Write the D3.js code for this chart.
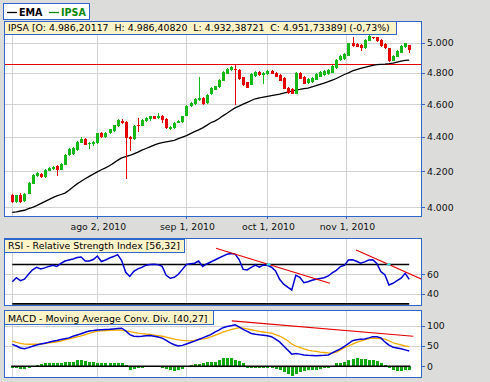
<!DOCTYPE html>
<html><head><meta charset="utf-8">
<script src="https://cdn.jsdelivr.net/npm/d3@7"></script>
<style>
html,body{margin:0;padding:0;background:#dcdddb;}
svg{display:block;font-family:"DejaVu Sans",sans-serif;}
</style></head><body>
<svg id="c" width="490" height="382"></svg>
<script>
// ---------- DATA ----------
const open  = [4070,4027,4070,4032,4074,4130,4176,4187,4165,4204,4214,4228,4209,4237,4294,4300,4323,4367,4387,4358,4359,4364,4425,4398,4422,4436,4466,4498,4488,4398,4386,4470,4468,4496,4507,4526,4512,4528,4508,4450,4454,4486,4490,4530,4588,4600,4625,4640,4605,4662,4692,4706,4750,4795,4816,4822,4818,4770,4738,4724,4778,4806,4785,4790,4812,4800,4784,4766,4705,4695,4666,4800,4772,4734,4740,4756,4775,4785,4790,4800,4830,4882,4890,4912,5000,4991,4984,4962,5013,5036,5036,5018,4991,4962,4880,4906,4932,4969,4986.2];
const high  = [4074,4070,4078,4080,4138,4185,4198,4192,4212,4224,4232,4236,4248,4298,4332,4338,4376,4400,4392,4372,4378,4426,4430,4430,4450,4474,4506,4506,4494,4408,4470,4514,4506,4520,4530,4530,4546,4532,4512,4468,4492,4504,4530,4592,4616,4640,4770,4645,4662,4710,4718,4760,4810,4834,4842,4854,4822,4775,4742,4800,4812,4812,4806,4818,4818,4806,4790,4772,4710,4700,4806,4806,4778,4766,4774,4800,4812,4818,4822,4850,4890,4918,4930,5000,5037,4996,4990,5022,5050,5042,5040,5022,4996,4966,4915,4950,4982,5000,4986.4];
const low   = [4022,4022,4025,4030,4072,4128,4168,4160,4162,4200,4210,4176,4205,4234,4290,4296,4320,4362,4350,4327,4345,4360,4394,4394,4418,4432,4462,4478,4155,4320,4382,4430,4465,4492,4496,4506,4508,4484,4448,4440,4450,4482,4486,4526,4584,4596,4622,4596,4600,4658,4688,4700,4746,4790,4812,4596,4755,4718,4700,4720,4774,4780,4730,4786,4790,4770,4746,4694,4666,4662,4662,4758,4726,4730,4736,4752,4770,4780,4786,4796,4826,4878,4886,4908,4974,4968,4946,4958,5010,5026,5008,4974,4958,4874,4876,4902,4928,4964,4932.4];
const close = [4027,4066,4031,4075,4134,4181,4190,4165,4209,4218,4224,4209,4243,4294,4327,4333,4372,4387,4355,4362,4370,4422,4398,4425,4446,4470,4502,4482,4394,4386,4466,4464,4502,4516,4526,4510,4528,4502,4452,4462,4486,4498,4526,4588,4608,4634,4638,4600,4658,4704,4712,4755,4806,4828,4835,4816,4760,4724,4704,4795,4806,4785,4800,4812,4795,4774,4750,4698,4671,4666,4800,4762,4730,4760,4768,4795,4806,4812,4816,4845,4884,4913,4925,4996,4978,4973,4962,5018,5045,5030,5013,4978,4962,4880,4911,4946,4978,4996,4951.7];
const ema   = [3973,3975,3980,3984,3993,4000,4009,4020,4031,4042,4053,4062,4070,4078,4094,4112,4129,4144,4158,4171,4184,4197,4209,4220,4232,4247,4263,4277,4285,4291,4301,4311,4322,4332,4342,4352,4361,4366,4371,4376,4380,4390,4399,4408,4420,4432,4443,4455,4470,4486,4496,4510,4528,4544,4561,4577,4588,4600,4611,4623,4634,4639,4644,4649,4654,4659,4664,4670,4676,4682,4689,4693,4698,4702,4710,4717,4726,4734,4743,4753,4763,4776,4789,4800,4812,4821,4829,4836,4842,4848,4853,4855,4857,4860,4864,4870,4876,4881,4883];
const resistance = 4856;
const rsi   = [52.5,56.5,53.5,55,60,64.5,67,65.5,66.5,68,69.2,68,71,73.5,74.5,75.5,77,77.5,73.5,73.5,75,78.6,73,74.5,76.5,78,80,74,62,57.8,63,65.5,67,69.3,70,70.2,69.8,68,59,56,57,60,65,70,70.8,71.2,73.5,68,70.5,72.5,74.5,76.5,78.5,80.3,81,80.5,75,65,64.5,67,69.3,67.3,69.5,69,67.2,63.5,55,50,47,44.1,59,57,51.5,52.5,54,55,55.8,56.5,58.3,61.5,64,67.8,69.1,74.5,74.8,73.2,71.2,72.6,74.5,74.8,71,62.8,59.5,49.1,50.9,53.5,56,61,54.9];
const rsiLevels = [70, 30];
const rsiTrend1 = [[50.3, 86.4], [78.4, 50.9]];
const rsiTrend2 = [[84.9, 84.7], [101.2, 54.9]];
const macd  = [54,50,45,43,46,49.5,52.5,55,57,59,61.5,63.5,66,68,70,74,77,80,84,87,88,89.5,90,90.5,91,92,93,93.8,87.2,78,74,73.5,74,75,75.6,74,72,69.5,64,57.5,53,50,51.5,55,58.5,62,66,70,74,78,84,89,95,98,100,102,97,91,86,81,79,77.5,76.5,75,73,67,60,50,40,30,31.5,30,28,27,26.5,26,26.5,27,28,33,38,43,49,56,63,65.5,66.5,67.5,70,73,72.5,70,60,52,47,45,43,40.5,37.8];
const signal= [62,59,56.5,54.5,54.3,54.3,54.3,55,56,57.5,59,60.5,62,65,67.5,70,72.5,75,78,81,84,86.5,87.5,88,88.5,89,89.6,88.5,87,85.4,83.5,81.8,80.5,79.5,78.3,77,75.8,74,72,69.5,67,65,64,63,62.5,64,66,67.5,69,72.5,76,80,84,87.5,90.5,93,95,94,92,90,88,86,84.5,83,81.5,78,74.5,69,63,55,50,46.5,43,40,38,36.5,35,34,33,32.3,35,40,45.9,50,54.5,59,62,65,68,69.5,69,68,67,63,58,55,52.5,50,48.4];
const hist  = [-3,-5,-7,-7,-5,-2,3,5,7,8,7,8,7,10,11.5,11.5,15,15.6,13,11.5,10,8,7,7,7,7,7,7,2,-8,-6.5,-5,-3,-1,0,0,-1,-3,-6.5,-10,-11.5,-10,-6.5,-1.6,2,5,6.5,8,10,11.5,11.5,15,20,20,20,15.6,13,7,-3,-3,-3,-4,-4,-5,-5,-6.5,-8,-13,-18,-23,-18,-15,-12,-10,-10,-8,-7,-5,-3,0,7,8,11.5,15,18,19.5,18,17,15.5,15,12,8,2,-5,-8,-11.5,-11.5,-8,-8];
const macdTrend = [[54.2, 112], [99, 74]];
const xTickIdx    = [0, 21, 43, 63, 82.5];
const xTickLabels = ["", "ago 2, 2010", "sep 1, 2010", "oct 1, 2010", "nov 1, 2010"];
const priceTicks  = [5000, 4800, 4600, 4400, 4200, 4000];
const rsiTicks    = [60, 40];
const macdTicks   = [100, 50, 0];
const titleMain = "IPSA [O: 4.986,20117  H: 4.986,40820  L: 4.932,38721  C: 4.951,73389] (-0,73%)";
const titleRsi  = "RSI - Relative Strength Index [56,32]";
const titleMacd = "MACD - Moving Average Conv. Div. [40,27]";

// ---------- STYLE / LAYOUT ----------
const BLUE="#2f66cc", GRID="#d3d3d3", UP="#16b816", DOWN="#e40000", YEL="#fff3c8";
const L=4, R=421;
const pMain={t:21,b:216}, pRsi={t:238,b:305}, pMacd={t:310,b:377};
const svg=d3.select("#c");
const idx=d3.range(close.length);
const x=d3.scaleLinear().domain([0,98]).range([12.3,409.2]);
const y=d3.scaleLog().domain([4000,5000]).range([207.3,42.7]);
const yR=d3.scaleLinear().domain([40,60]).range([294,274.3]);
const yM=d3.scaleLinear().domain([0,100]).range([366.3,325.7]);
const px=v=>Math.round(v)+0.5;

function panel(p,id){
  svg.append("rect").attr("x",L+0.5).attr("y",p.t+0.5).attr("width",R-L).attr("height",p.b-p.t).attr("fill","#fff");
  svg.append("clipPath").attr("id",id).append("rect").attr("x",L+1).attr("y",p.t+1).attr("width",R-L-1).attr("height",p.b-p.t-1);
  const g=svg.append("g").attr("clip-path",`url(#${id})`);
  g.selectAll("line.vg").data(xTickIdx).join("line").attr("class","vg")
    .attr("x1",d=>px(x(d))).attr("x2",d=>px(x(d))).attr("y1",p.t).attr("y2",p.b)
    .attr("stroke",GRID).attr("stroke-width",1).attr("shape-rendering","crispEdges");
  return g;
}
function border(p){
  svg.append("rect").attr("x",L+0.5).attr("y",p.t+0.5).attr("width",R-L).attr("height",p.b-p.t)
    .attr("fill","none").attr("stroke",BLUE).attr("stroke-width",1).attr("shape-rendering","crispEdges");
}
function rightAxis(ticks,scale,fmt){
  const g=svg.append("g");
  g.selectAll("line").data(ticks).join("line").attr("x1",R).attr("x2",R+4)
    .attr("y1",d=>px(scale(d))).attr("y2",d=>px(scale(d))).attr("stroke",BLUE).attr("shape-rendering","crispEdges");
  g.selectAll("text").data(ticks).join("text").attr("x",R+6).attr("y",d=>scale(d)).attr("dy","0.36em")
    .attr("font-size","9.3px").attr("fill","#111").text(fmt);
}
function titleBox(t,xx,yy,w,h,base){
  svg.append("rect").attr("x",xx+0.5).attr("y",yy+0.5).attr("width",w).attr("height",h)
    .attr("fill",YEL).attr("stroke",BLUE).attr("shape-rendering","crispEdges");
  svg.append("text").attr("x",xx+4).attr("y",base).attr("font-size","9.4px").attr("fill","#000")
    .attr("xml:space","preserve").style("white-space","pre").text(t);
}

// ---------- MAIN PANEL ----------
const gm=panel(pMain,"cm");
gm.selectAll("line.hg").data(priceTicks).join("line").attr("class","hg")
  .attr("x1",L).attr("x2",R).attr("y1",d=>px(y(d))).attr("y2",d=>px(y(d)))
  .attr("stroke",GRID).attr("shape-rendering","crispEdges");
gm.append("line").attr("x1",L).attr("x2",R).attr("y1",px(y(resistance))).attr("y2",px(y(resistance)))
  .attr("stroke",DOWN).attr("stroke-width",1.2);
gm.append("path").datum(idx).attr("fill","none").attr("stroke","#000").attr("stroke-width",1.3)
  .attr("d",d3.line().x(i=>x(i)).y(i=>y(ema[i])));
const cg=gm.selectAll("g.cd").data(idx).join("g").attr("class","cd");
cg.append("line").attr("x1",i=>px(x(i))).attr("x2",i=>px(x(i)))
  .attr("y1",i=>y(high[i])).attr("y2",i=>y(low[i]))
  .attr("stroke",i=>close[i]>=open[i]?UP:DOWN).attr("stroke-width",1).attr("shape-rendering","crispEdges");
cg.append("rect").attr("x",i=>Math.round(x(i))-1).attr("width",3)
  .attr("y",i=>y(Math.max(open[i],close[i])))
  .attr("height",i=>Math.max(1,y(Math.min(open[i],close[i]))-y(Math.max(open[i],close[i]))))
  .attr("fill",i=>close[i]>=open[i]?UP:DOWN).attr("shape-rendering","crispEdges");
border(pMain);
rightAxis(priceTicks,y,d=>d3.format(".3f")(d/1000));
// x axis
const xa=svg.append("g");
xa.selectAll("line").data(xTickIdx.filter((d,i)=>xTickLabels[i])).join("line")
  .attr("x1",d=>px(x(d))).attr("x2",d=>px(x(d))).attr("y1",pMain.b).attr("y2",pMain.b+3)
  .attr("stroke",BLUE).attr("shape-rendering","crispEdges");
xa.selectAll("text").data(xTickIdx).join("text").attr("x",d=>x(d)+1).attr("y",229.5)
  .attr("text-anchor","middle").attr("font-size","9.3px").attr("fill","#111").text((d,i)=>xTickLabels[i]);
titleBox(titleMain,L,pMain.t,391.5,12.5,31);

// ---------- RSI PANEL ----------
const gr=panel(pRsi,"cr");
gr.selectAll("line.hg").data(rsiTicks).join("line").attr("class","hg")
  .attr("x1",L).attr("x2",R).attr("y1",d=>px(yR(d))).attr("y2",d=>px(yR(d)))
  .attr("stroke",GRID).attr("shape-rendering","crispEdges");
gr.selectAll("line.lv").data(rsiLevels).join("line").attr("class","lv")
  .attr("x1",x(0)).attr("x2",x(98)).attr("y1",d=>yR(d)).attr("y2",d=>yR(d))
  .attr("stroke","#000").attr("stroke-width",1.6);
gr.append("path").datum(idx).attr("fill","none").attr("stroke","#0000d4").attr("stroke-width",1.5)
  .attr("d",d3.line().x(i=>x(i)).y(i=>yR(rsi[i])));
[rsiTrend1,rsiTrend2].forEach(tl=>{
  gr.append("line").attr("x1",x(tl[0][0])).attr("y1",yR(tl[0][1])).attr("x2",x(tl[1][0])).attr("y2",yR(tl[1][1]))
    .attr("stroke",DOWN).attr("stroke-width",1.2);
  // marker where trend line crosses the 70 level
  const t=(rsiLevels[0]-tl[0][1])/(tl[1][1]-tl[0][1]);
  const ci=tl[0][0]+t*(tl[1][0]-tl[0][0]);
  gr.append("rect").attr("x",x(ci)-2).attr("y",yR(rsiLevels[0])-1).attr("width",4).attr("height",2).attr("fill","#33dddd");
});
border(pRsi);
rightAxis(rsiTicks,yR,d=>d);
titleBox(titleRsi,L,pRsi.t+1,180,12.5,249.3);

// ---------- MACD PANEL ----------
const gc=panel(pMacd,"cc");
gc.selectAll("line.hg").data(macdTicks.filter(d=>d!==0)).join("line").attr("class","hg")
  .attr("x1",L).attr("x2",R).attr("y1",d=>px(yM(d))).attr("y2",d=>px(yM(d)))
  .attr("stroke",GRID).attr("shape-rendering","crispEdges");
gc.selectAll("rect.hb").data(idx).join("rect").attr("class","hb")
  .attr("x",i=>Math.round(x(i))-1).attr("width",3)
  .attr("y",i=>Math.min(yM(0),yM(hist[i]))).attr("height",i=>Math.abs(yM(hist[i])-yM(0)))
  .attr("fill","#12a812").attr("shape-rendering","crispEdges");
gc.append("line").attr("x1",x(0)-1).attr("x2",x(98)+1).attr("y1",yM(0)).attr("y2",yM(0))
  .attr("stroke","#000").attr("stroke-width",1.5);
gc.append("line").attr("x1",x(macdTrend[0][0])).attr("y1",yM(macdTrend[0][1]))
  .attr("x2",x(macdTrend[1][0])).attr("y2",yM(macdTrend[1][1])).attr("stroke",DOWN).attr("stroke-width",1.2);
gc.append("path").datum(idx).attr("fill","none").attr("stroke","#f2a900").attr("stroke-width",1.3)
  .attr("d",d3.line().x(i=>x(i)).y(i=>yM(signal[i])));
gc.append("path").datum(idx).attr("fill","none").attr("stroke","#0000d4").attr("stroke-width",1.5)
  .attr("d",d3.line().x(i=>x(i)).y(i=>yM(macd[i])));
border(pMacd);
rightAxis(macdTicks,yM,d=>d);
titleBox(titleMacd,L,pMacd.t,209,13.5,321.5);

// ---------- LEGEND ----------
const lg=svg.append("g");
lg.append("rect").attr("x",3.5).attr("y",3.5).attr("width",86).attr("height",15.5)
  .attr("fill","#fff").attr("stroke",BLUE).attr("shape-rendering","crispEdges");
const legendItems=[{name:"EMA",color:"#000",x0:7},{name:"IPSA",color:"#0a8a0a",x0:49}];
legendItems.forEach(it=>{
  lg.append("line").attr("x1",it.x0).attr("x2",it.x0+10).attr("y1",12.5).attr("y2",12.5).attr("stroke",it.color).attr("stroke-width",1.3);
  lg.append("text").attr("x",it.x0+12).attr("y",16).attr("font-size","9.6px").attr("font-weight","bold")
    .attr("fill",it.color).text(it.name);
});
</script>
</body></html>
